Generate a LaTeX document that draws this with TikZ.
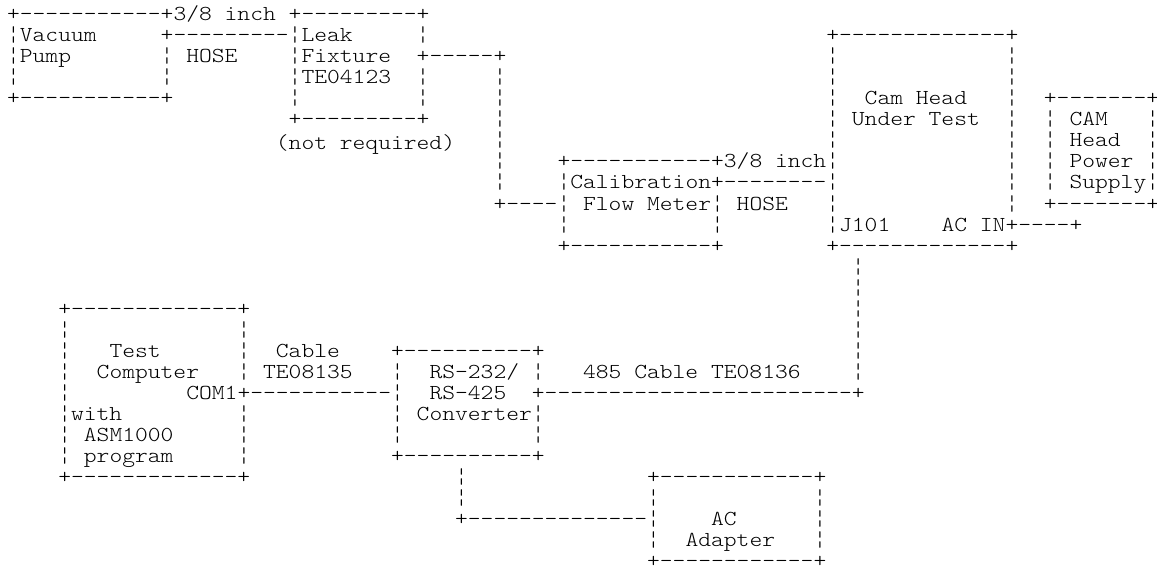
\documentclass[tikz,border=0pt]{standalone}
\usepackage{fontspec}
\newfontfamily\ascfont[FakeStretch=1.143]{lmmonolt10-regular.otf}
\tikzset{asc/.style={font=\ascfont\fontsize{21.33pt}{21pt}\selectfont, inner sep=0pt, outer sep=0pt, anchor=base west, text=black}}
\newcommand\ascdash[1]{\foreach\i in {1,...,#1}{\hbox{-}}}
\newcommand\ascput[4]{\node[asc] (#1) at ({7.1pt+12.8pt*#2},{-20.6pt-21.05pt*#3}) {#4};}
\newcommand\ascedge[4]{\ascput{#1}{#2}{#3}{+\ascdash{#4}+}}
\begin{document}
\begin{tikzpicture}
\fill[white] (0,0) rectangle (1157pt,-569pt);
\useasboundingbox (0,0) rectangle (1157pt,-569pt);
% ---- Vacuum pump box (cols 0-12, rows 0-4)
\ascedge{vp-top}{0}{0}{11}
\ascedge{vp-bot}{0}{4}{11}
\foreach \r in {1,2,3}{\ascput{vp-l\r}{0}{\r}{¦}}
\foreach \r in {2,3}{\ascput{vp-r\r}{12}{\r}{¦}}
\ascput{vp-t1}{1}{1}{Vacuum}
\ascput{vp-t2}{1}{2}{Pump}
% ---- hose 1
\ascput{hose1-lbl}{13}{0}{3/8 inch}
\ascput{hose1}{12}{1}{+\ascdash{9}¦}
\ascput{hose1-lbl2}{14}{2}{HOSE}
% ---- Leak fixture (cols 22-32, rows 0-5)
\ascedge{lf-top}{22}{0}{9}
\ascedge{lf-bot}{22}{5}{9}
\foreach \r in {2,3,4}{\ascput{lf-l\r}{22}{\r}{¦}}
\foreach \r in {1,3,4}{\ascput{lf-r\r}{32}{\r}{¦}}
\ascput{lf-t1}{23}{1}{Leak}
\ascput{lf-t2}{23}{2}{Fixture}
\ascput{lf-t3}{23}{3}{TE04123}
\ascput{lf-note}{21}{6.1}{(not required)}
% ---- line leak -> calibration
\ascput{l2}{32}{2}{+\ascdash{5}+}
\foreach \r in {3,...,8}{\ascput{l2v\r}{38}{\r}{¦}}
\ascput{l2b}{38}{9}{+\ascdash{4}¦}
% ---- Calibration flow meter (cols 43-55, rows 7-11)
\ascedge{cf-top}{43}{7}{11}
\ascedge{cf-bot}{43}{11}{11}
\foreach \r in {8,10}{\ascput{cf-l\r}{43}{\r}{¦}}
\foreach \r in {9,10}{\ascput{cf-r\r}{55}{\r}{¦}}
\ascput{cf-t1}{44}{8}{Calibration}
\ascput{cf-t2}{45}{9}{Flow Meter}
% ---- hose 2
\ascput{hose2-lbl}{56}{7}{3/8 inch}
\ascput{hose2}{55}{8}{+\ascdash{8}¦}
\ascput{hose2-lbl2}{57}{9}{HOSE}
% ---- Cam head (cols 64-78, rows 1-11)
\ascedge{ch-top}{64}{1}{13}
\ascedge{ch-bot}{64}{11}{13}
\foreach \r in {2,...,7,9,10}{\ascput{ch-l\r}{64}{\r}{¦}}
\foreach \r in {2,...,9}{\ascput{ch-r\r}{78}{\r}{¦}}
\ascput{ch-t1}{67}{4}{Cam Head}
\ascput{ch-t2}{66}{5}{Under Test}
\ascput{ch-j}{65}{10}{J101}
\ascput{ch-ac}{73}{10}{AC IN}
\ascput{pw-line}{78}{10}{+\ascdash{4}+}
% ---- Power supply (cols 81-89, rows 4-9)
\ascedge{ps-top}{81}{4}{7}
\ascedge{ps-bot}{81}{9}{7}
\foreach \r in {5,...,8}{\ascput{ps-l\r}{81}{\r}{¦}\ascput{ps-r\r}{89}{\r}{¦}}
\ascput{ps-t1}{83}{5}{CAM}
\ascput{ps-t2}{83}{6}{Head}
\ascput{ps-t3}{83}{7}{Power}
\ascput{ps-t4}{83}{8}{Supply}
% ---- 485 cable
\foreach \r in {12,...,17}{\ascput{c485v\r}{66}{\r}{¦}}
\ascput{c485}{41}{18}{+\ascdash{24}+}
\ascput{c485-lbl}{45}{17}{485 Cable TE08136}
% ---- Test computer (cols 4-18, rows 14-22)
\ascedge{tc-top}{4}{14}{13}
\ascedge{tc-bot}{4}{22}{13}
\foreach \r in {15,...,21}{\ascput{tc-l\r}{4}{\r}{¦}}
\foreach \r in {15,16,17,19,20,21}{\ascput{tc-r\r}{18}{\r}{¦}}
\ascput{tc-t1}{8}{16}{Test}
\ascput{tc-t2}{7}{17}{Computer}
\ascput{tc-com}{14}{18}{COM1}
\ascput{tc-t3}{5}{19}{with}
\ascput{tc-t4}{6}{20}{ASM1000}
\ascput{tc-t5}{6}{21}{program}
% ---- RS-232 cable
\ascput{c232}{18}{18}{+\ascdash{11}¦}
\ascput{c232-l1}{21}{16}{Cable}
\ascput{c232-l2}{20}{17}{TE08135}
% ---- Converter (cols 30-41, rows 16-21)
\ascedge{cv-top}{30}{16}{10}
\ascedge{cv-bot}{30}{21}{10}
\foreach \r in {17,19,20}{\ascput{cv-l\r}{30}{\r}{¦}}
\foreach \r in {17,19,20}{\ascput{cv-r\r}{41}{\r}{¦}}
\ascput{cv-t1}{33}{17}{RS-232/}
\ascput{cv-t2}{33}{18}{RS-425}
\ascput{cv-t3}{32}{19}{Converter}
% ---- line converter -> AC adapter
\foreach \r in {22,23}{\ascput{ad-v\r}{35}{\r}{¦}}
\ascput{ad-h}{35}{24}{+\ascdash{14}¦}
% ---- AC adapter (cols 50-63, rows 22-26)
\ascedge{ad-top}{50}{22}{12}
\ascedge{ad-bot}{50}{26}{12}
\foreach \r in {23,25}{\ascput{ad-l\r}{50}{\r}{¦}}
\foreach \r in {23,24,25}{\ascput{ad-r\r}{63}{\r}{¦}}
\ascput{ad-t1}{55}{24}{AC}
\ascput{ad-t2}{53}{25}{Adapter}
\end{tikzpicture}
\end{document}
